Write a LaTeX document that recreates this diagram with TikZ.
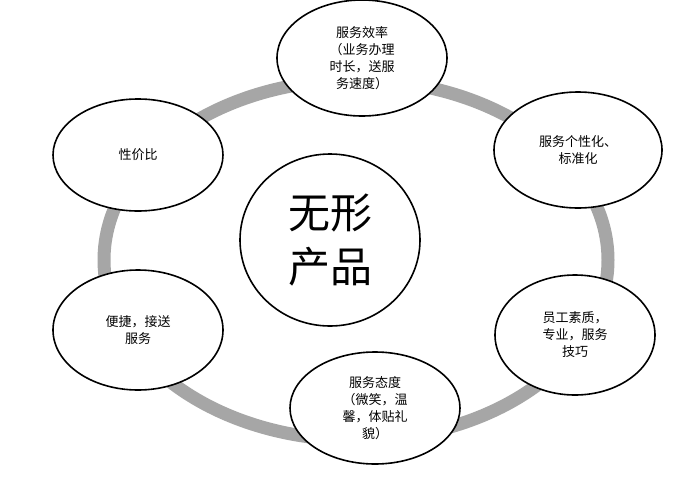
\documentclass[tikz,border=0pt]{standalone}
\usepackage{fontspec}
\setmainfont{Liberation Serif}
\newfontfamily\cjk{Noto Sans CJK SC}[BoldFont={Noto Sans CJK SC}]
\usetikzlibrary{shapes.geometric}
\begin{document}
\begin{tikzpicture}[x=1pt,y=-1pt,
  bub/.style={ellipse,draw=black,line width=1.6pt,fill=white,inner sep=0pt,align=center,font=\cjk\fontsize{13}{17}\selectfont}]
\useasboundingbox (0,0) rectangle (683,496);
\fill[white] (0,0) rectangle (683,496);
\draw[gray!70,line width=13pt] (356,260) ellipse [x radius=252, y radius=180];
\node[bub,minimum width=180,minimum height=172,font=\cjk\fontsize{42}{54}\selectfont] (c) at (330,240) {无形\\产品};
\node[bub,minimum width=170,minimum height=116] (a) at (362,58) {服务效率\\（业务办理\\时长，送服\\务速度）};
\node[bub,minimum width=168,minimum height=116] (b) at (578,150) {服务个性化、\\标准化};
\node[bub,minimum width=160,minimum height=120] (r) at (575,335) {员工素质，\\专业，服务\\技巧};
\node[bub,minimum width=170,minimum height=112] (d) at (375,408) {服务态度\\（微笑，温\\馨，体贴礼\\貌）};
\node[bub,minimum width=170,minimum height=120] (e) at (138,330) {便捷，接送\\服务};
\node[bub,minimum width=170,minimum height=112] (f) at (138,155) {性价比};
\end{tikzpicture}
\end{document}
